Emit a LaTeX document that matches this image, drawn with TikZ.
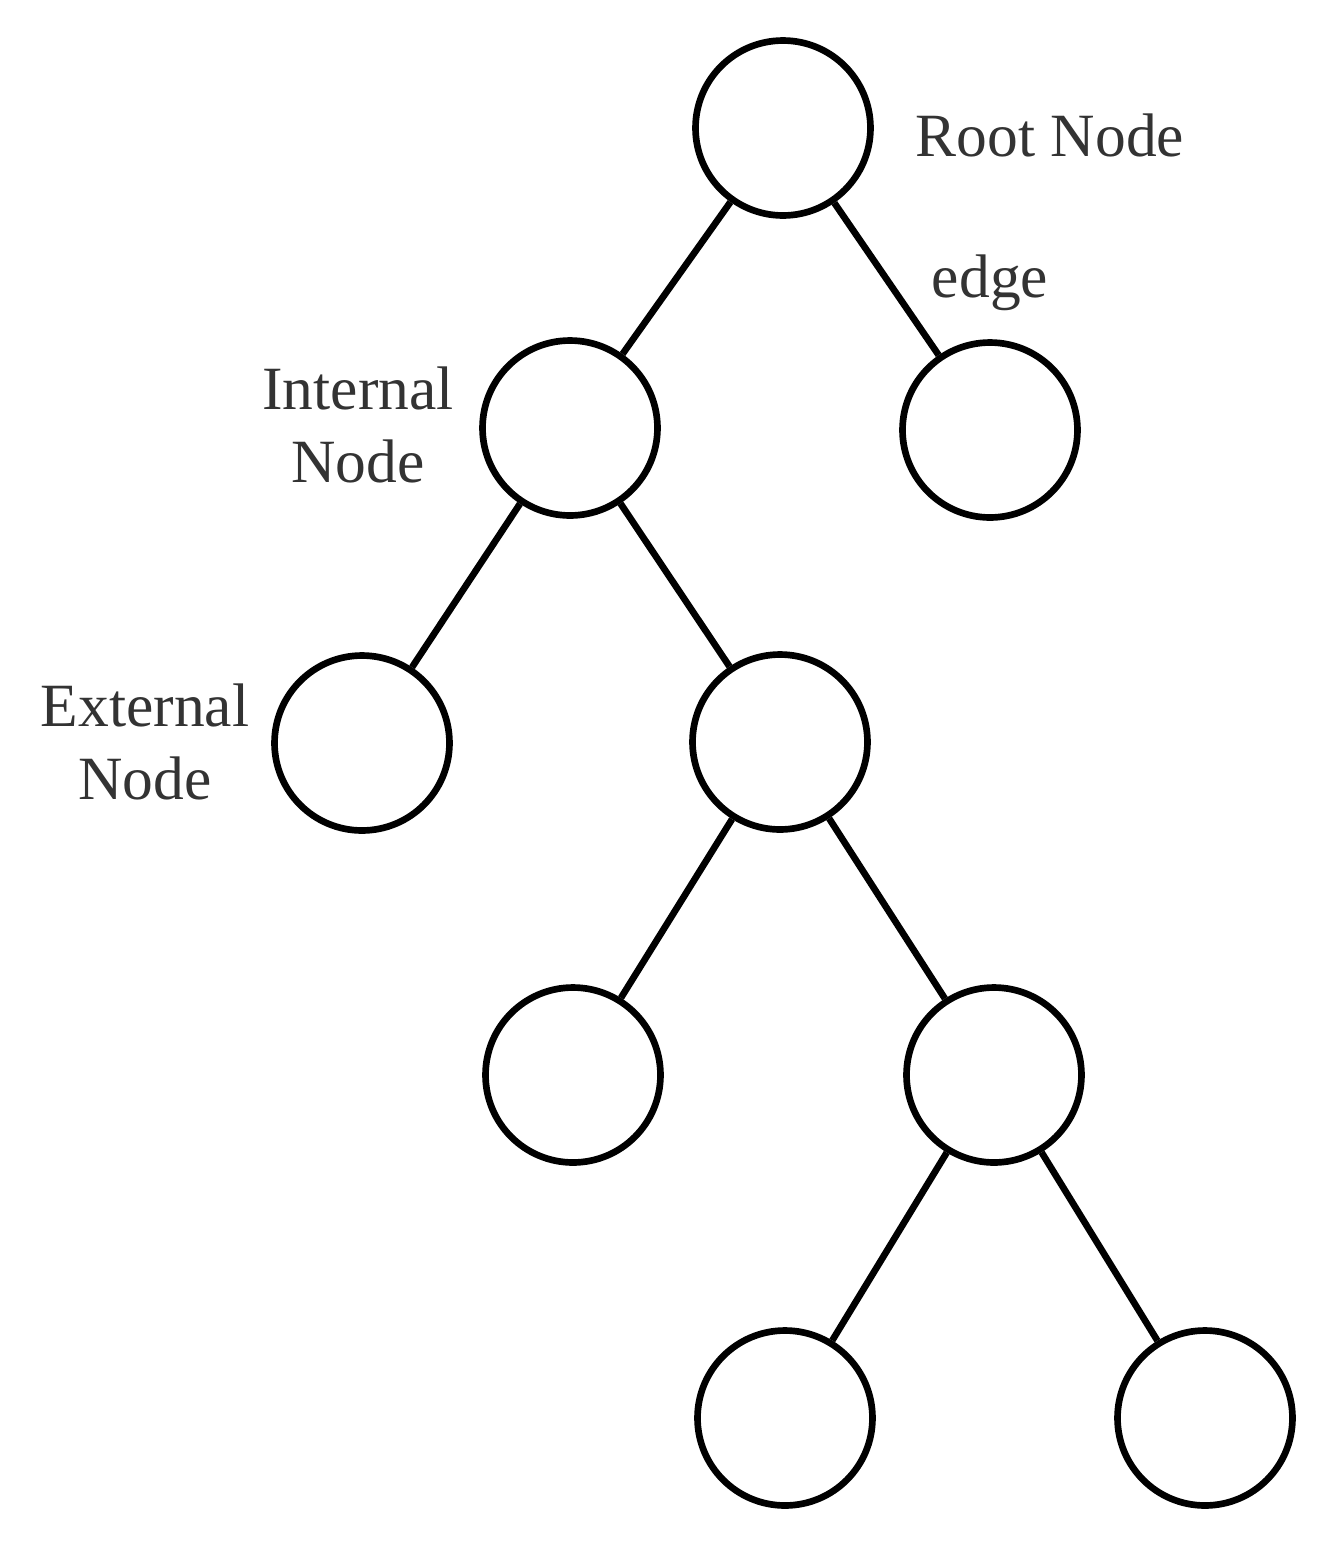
\documentclass[tikz,border=0pt]{standalone}
\usepackage{fontspec}
\setmainfont{Liberation Serif}
\begin{document}
\begin{tikzpicture}[x=0.02cm,y=-0.02cm,
  tn/.style={circle,draw=black,line width=3.8pt,minimum size=3.5cm,inner sep=0pt},
  lbl/.style={font=\fontsize{35}{42}\selectfont,text=black!80,align=center},
  ed/.style={line width=3.8pt}]
\useasboundingbox (0,0) rectangle (1331,1546);
\node[tn] (r) at (783,128) {};
\node[tn] (a) at (570,428) {};
\node[tn] (b) at (990,430) {};
\node[tn] (c) at (362,743) {};
\node[tn] (d) at (780,742) {};
\node[tn] (e) at (573,1075) {};
\node[tn] (f) at (994,1075) {};
\node[tn] (g) at (785,1418) {};
\node[tn] (h) at (1205,1418) {};
\draw[ed] (r) -- (a);
\draw[ed] (r) -- (b);
\draw[ed] (a) -- (c);
\draw[ed] (a) -- (d);
\draw[ed] (d) -- (e);
\draw[ed] (d) -- (f);
\draw[ed] (f) -- (g);
\draw[ed] (f) -- (h);
\node[lbl] (lr) at (1050,135) {Root Node};
\node[lbl] (le) at (990,283) {edge};
\node[lbl] (li) at (358,425) {Internal\\Node};
\node[lbl] (lx) at (145,742) {External\\Node};
\end{tikzpicture}
\end{document}
